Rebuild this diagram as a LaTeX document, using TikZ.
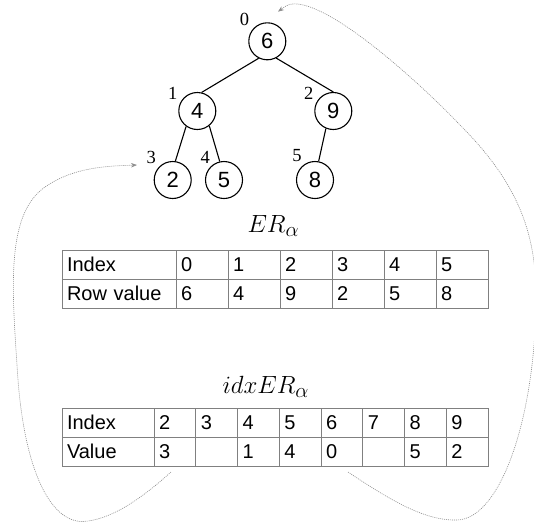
\documentclass[tikz,border=0pt]{standalone}
\usepackage{fontspec}
\setsansfont{Liberation Sans}
\newfontfamily\labfont{Liberation Serif}
\usetikzlibrary{arrows.meta}

\tikzset{
  vert/.style={circle, draw, line width=1.1pt, minimum size=37pt, inner sep=0pt,
               font=\sffamily\fontsize{22}{22}\selectfont},
  idxlab/.style={inner sep=0pt, font=\labfont\fontsize{18.5}{18.5}\selectfont},
  treeedge/.style={line width=1.1pt},
  cell/.style={draw=black!50, line width=0.8pt, outer sep=0pt, inner xsep=5pt,
               inner ysep=0pt, minimum height=29pt, align=left, anchor=north west,
               font=\sffamily\fontsize{20}{22}\selectfont},
  title/.style={anchor=base, inner sep=0pt, font=\fontsize{27.5}{30}\selectfont},
  link/.style={draw=black!45, line width=0.6pt, dash pattern=on 1pt off 1pt,
               -{Stealth[length=6pt,width=4.5pt]}}
}

\begin{document}
\begin{tikzpicture}[x=1pt, y=-1pt]
\useasboundingbox (0,0) rectangle (534,523);

% heap as a tree
\node[vert] (n6) at (267.3,41.3) {6};
\node[vert] (n4) at (197.3,111) {4};
\node[vert] (n9) at (333.3,111) {9};
\node[vert] (n2) at (172.7,180) {2};
\node[vert] (n5) at (224,180) {5};
\node[vert] (n8) at (315,180) {8};

\draw[treeedge] (n6.243) -- (n4.77);
\draw[treeedge] (n6.298) -- (n9.90);
\draw[treeedge] (n4.234) -- (n2.82);
\draw[treeedge] (n4.309) -- (n5.103);
\draw[treeedge] (n9.247) -- (n8.79);

% array positions
\node[idxlab] (l0) at (244.4,19.3) {0};
\node[idxlab] (l1) at (172.8,93.5) {1};
\node[idxlab] (l2) at (308.7,93.7) {2};
\node[idxlab] (l3) at (151.3,157) {3};
\node[idxlab] (l4) at (205.3,157) {4};
\node[idxlab] (l5) at (297,156) {5};

% ER table
\node[title] (ert) at (273.3,232.7) {$ER_\alpha$};
\node[cell, text width=104pt] (erh) at (62,250) {Index};
\node[cell, text width=104pt] (erv) at (62,279) {Row value};
\foreach \k/\a/\b in {0/0/6,1/1/4,2/2/9,3/3/2,4/4/5,5/5/8}{
  \node[cell, text width=42pt] (erh\k) at ({176+52*\k},250) {\a};
  \node[cell, text width=42pt] (erv\k) at ({176+52*\k},279) {\b};
}

% idxER table
\node[title] (ixt) at (265.8,393.3) {$idxER_\alpha$};
\node[cell, text width=82pt] (ixh) at (62,408) {Index};
\node[cell, text width=82pt] (ixv) at (62,437) {Value};
\foreach \k/\a/\b in {0/2/3,1/3/{},2/4/1,3/5/4,4/6/0,5/7/{},6/8/5,7/9/2}{
  \node[cell, text width=31.75pt] (ixh\k) at ({154+41.75*\k},408) {\a};
  \node[cell, text width=31.75pt] (ixv\k) at ({154+41.75*\k},437) {\b};
}

% links back to the tree
\coordinate (sL) at (171,472);
\coordinate (tL) at (137,165);
\coordinate (sR) at (348,472);
\coordinate (tR) at (278,11.7);

\draw[link] (sL) .. controls (140,500) and (110,520) .. (83,521.5)
  .. controls (50,522) and (25,470) .. (18,380)
  .. controls (12,290) and (5,215) .. (45,187)
  .. controls (75,166) and (112,166) .. (tL);

\draw[link] (sR) .. controls (390,500) and (425,521) .. (457,520)
  .. controls (500,519) and (535,420) .. (536,300)
  .. controls (537,230) and (515,180) .. (460,125)
  .. controls (425,88) and (330,0) .. (292,4)
  .. controls (287,4.5) and (283,8) .. (tR);
\end{tikzpicture}
\end{document}
